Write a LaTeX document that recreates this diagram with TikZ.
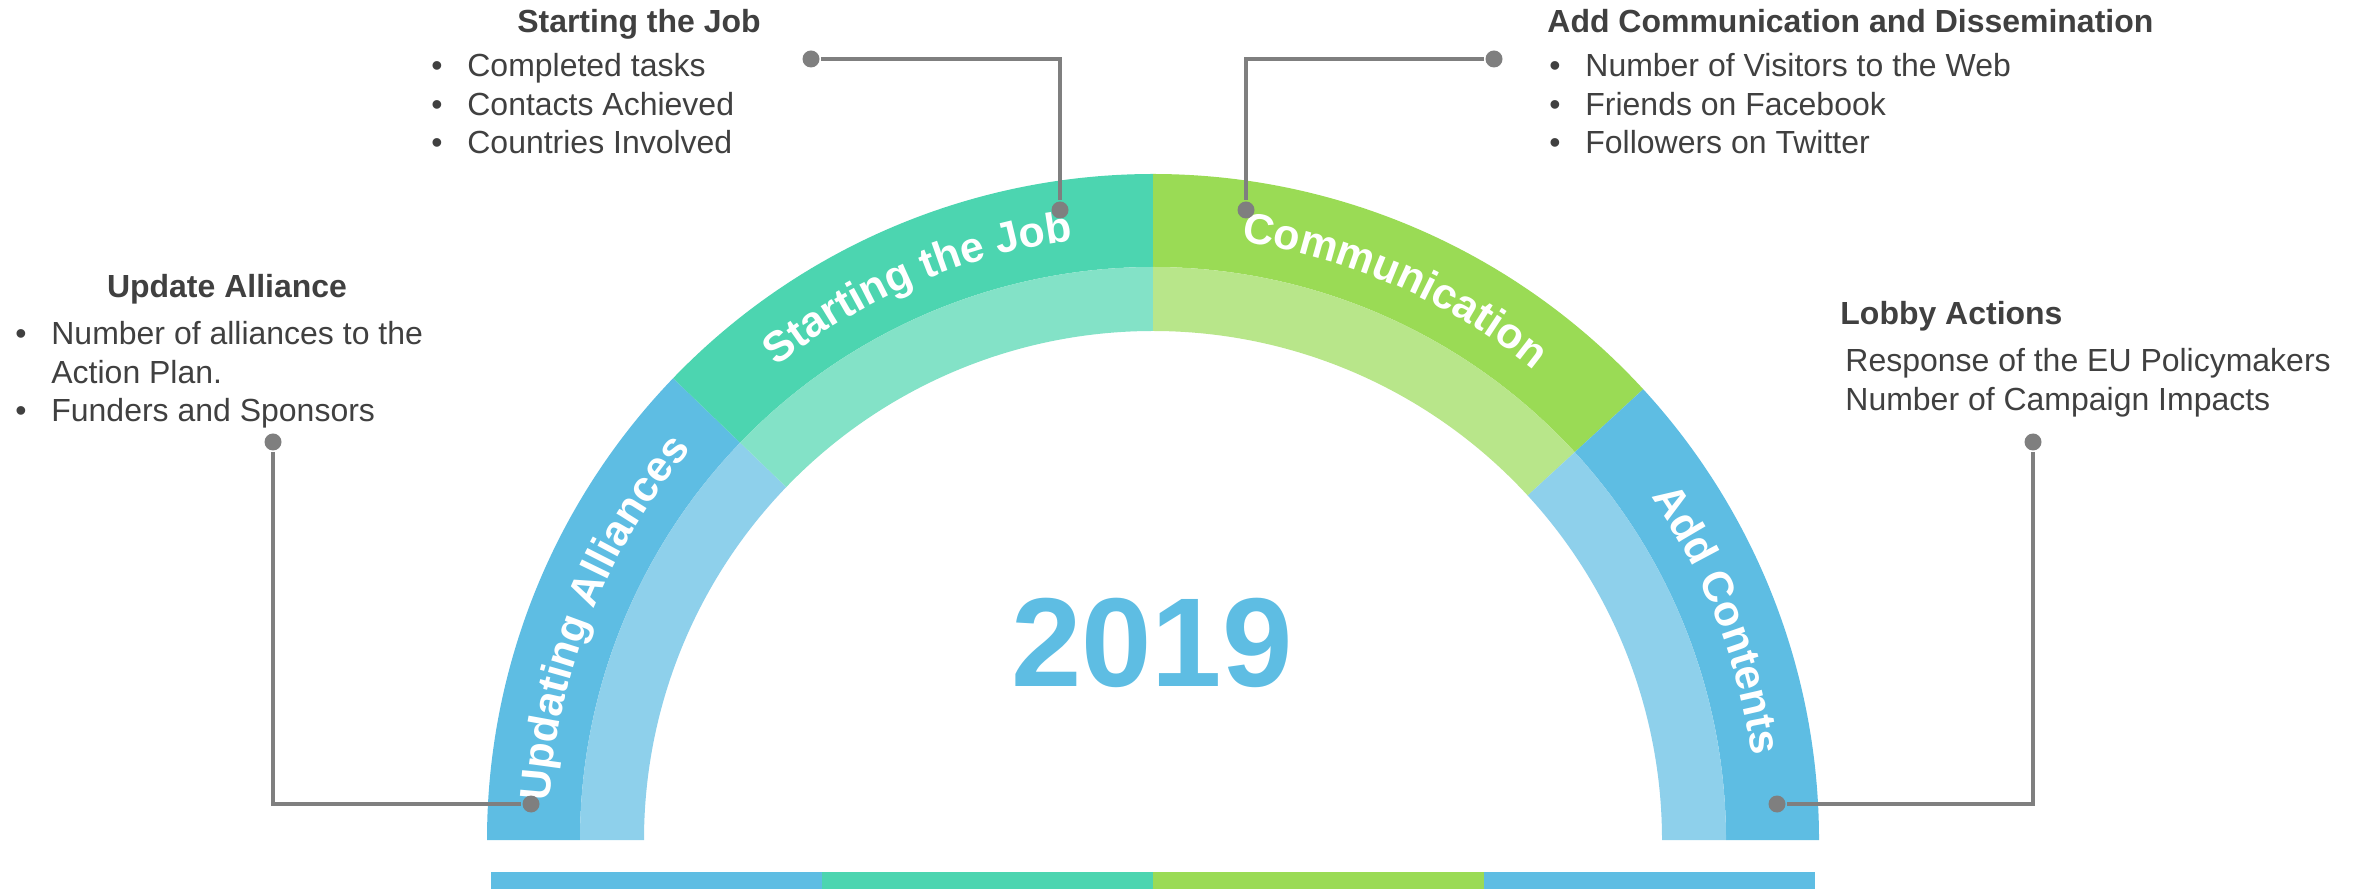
\documentclass[tikz,border=0pt]{standalone}
\usepackage{fontspec}
\setmainfont{Liberation Sans}
\usepackage{xcolor}
\usetikzlibrary{decorations.text}

\definecolor{blueDark}{HTML}{5EBDE3}
\definecolor{blueLight}{HTML}{8ED0EB}
\definecolor{tealDark}{HTML}{4CD5B0}
\definecolor{tealLight}{HTML}{83E2C7}
\definecolor{greenDark}{HTML}{9ADB55}
\definecolor{greenLight}{HTML}{B8E68A}
\definecolor{inkgray}{HTML}{404040}
\definecolor{leadgray}{HTML}{7F7F7F}

% one piece of the ring: colour, from angle, to angle, outer and inner radius
\newcommand{\ringpart}[5]{\fill[#1] (#2:#4) arc[start angle=#2,end angle=#3,radius=#4] -- (#3:#5) arc[start angle=#3,end angle=#2,radius=#5] -- cycle;}
\newcommand{\blt}{\makebox[0.36cm][l]{\textbullet}}

\begin{document}
\begin{tikzpicture}[thick,
    head/.style={font=\bfseries\fontsize{9.1}{11}\selectfont,text=inkgray,inner sep=0pt},
    entry/.style={font=\fontsize{9.1}{11}\selectfont,text=inkgray,inner sep=0pt,anchor=base west},
    leader dot/.style={circle,fill=leadgray,inner sep=0pt,minimum size=0.17cm},
    leader/.style={draw=leadgray,line width=0.95pt},
    arc label/.style={decorate,decoration={text along path,text align=center,text color=white,
        text={|\bfseries\fontsize{12.2}{14}\selectfont|#1}}}]
    \useasboundingbox (0,0) rectangle (23.56,8.89);

    \begin{scope}[shift={(11.53,0.49)}]
        \ringpart{blueDark}{180}{136.1}{6.66}{5.73}
        \ringpart{tealDark}{136.1}{90}{6.66}{5.73}
        \ringpart{greenDark}{90}{42.6}{6.66}{5.73}
        \ringpart{blueDark}{42.6}{0}{6.66}{5.73}
        \ringpart{blueLight}{180}{136.1}{5.73}{5.09}
        \ringpart{tealLight}{136.1}{90}{5.73}{5.09}
        \ringpart{greenLight}{90}{42.6}{5.73}{5.09}
        \ringpart{blueLight}{42.6}{0}{5.73}{5.09}

        \path[arc label={Updating Alliances}] (180:6.05) arc[start angle=180,end angle=136.1,radius=6.05];
        \path[arc label={Starting the Job}] (136.1:6.05) arc[start angle=136.1,end angle=90,radius=6.05];
        \path[arc label={Communication}] (90:6.05) arc[start angle=90,end angle=42.6,radius=6.05];
        \path[arc label={Add Contents}] (42.6:6.05) arc[start angle=42.6,end angle=0,radius=6.05];
    \end{scope}

    \foreach \c [count=\i from 0] in {blueDark,tealDark,greenDark,blueDark}
        \fill[\c] ({4.91+3.31*\i},0) rectangle ++(3.31,0.17);

    \node[font=\bfseries\fontsize{36}{40}\selectfont,text=blueDark] (year) at (11.52,2.465) {2019};

    \node[head,anchor=base] (ua head) at (2.27,5.91) {Update Alliance};
    \node[entry] (ua 1) at (0.14,5.44) {\blt Number of alliances to the};
    \node[entry] (ua 2) at (0.50,5.055) {Action Plan.};
    \node[entry] (ua 3) at (0.14,4.67) {\blt Funders and Sponsors};

    \node[head,anchor=base] (sj head) at (6.39,8.56) {Starting the Job};
    \node[entry] (sj 1) at (4.30,8.12) {\blt Completed tasks};
    \node[entry] (sj 2) at (4.30,7.735) {\blt Contacts Achieved};
    \node[entry] (sj 3) at (4.30,7.35) {\blt Countries Involved};

    \node[head,anchor=base west] (cm head) at (15.46,8.56) {Add Communication and Dissemination};
    \node[entry] (cm 1) at (15.48,8.12) {\blt Number of Visitors to the Web};
    \node[entry] (cm 2) at (15.48,7.735) {\blt Friends on Facebook};
    \node[entry] (cm 3) at (15.48,7.35) {\blt Followers on Twitter};

    \node[head,anchor=base west] (la head) at (18.39,5.64) {Lobby Actions};
    \node[entry] (la 1) at (18.44,5.17) {Response of the EU Policymakers};
    \node[entry] (la 2) at (18.44,4.78) {Number of Campaign Impacts};

    \node[leader dot] (ua dot) at (2.73,4.47) {};
    \node[leader dot] (ua end) at (5.31,0.85) {};
    \node[leader dot] (sj dot) at (8.11,8.30) {};
    \node[leader dot] (sj end) at (10.60,6.79) {};
    \node[leader dot] (cm dot) at (14.94,8.30) {};
    \node[leader dot] (cm end) at (12.46,6.79) {};
    \node[leader dot] (la dot) at (20.33,4.47) {};
    \node[leader dot] (la end) at (17.77,0.85) {};

    \draw[leader] (ua dot) |- (ua end);
    \draw[leader] (sj dot) -| (sj end);
    \draw[leader] (cm dot) -| (cm end);
    \draw[leader] (la dot) |- (la end);
\end{tikzpicture}
\end{document}
